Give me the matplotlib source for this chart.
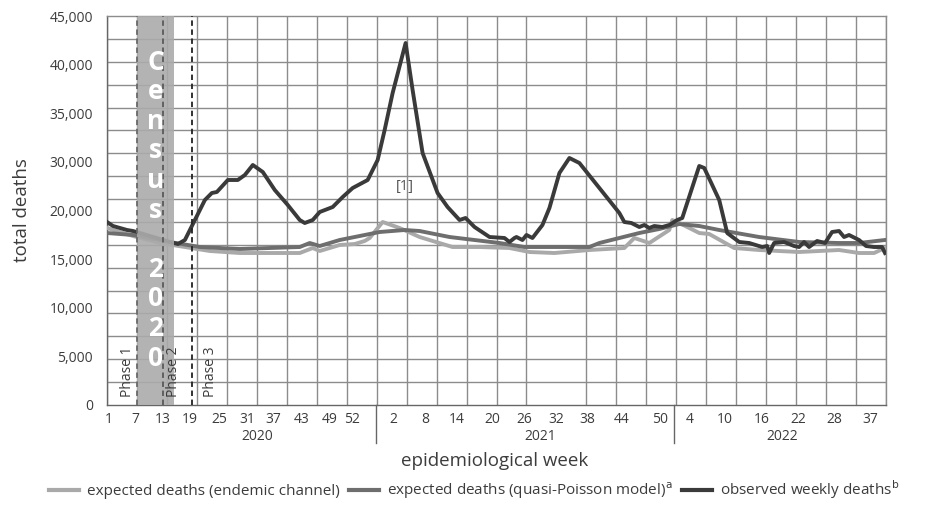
import matplotlib
matplotlib.use("Agg")
import matplotlib.pyplot as plt
import numpy as np
from matplotlib.lines import Line2D

plt.rcParams['font.family'] = ['Open Sans', 'DejaVu Sans']

# ---------------- data (x = running week index along the axis) ----------------
obs_week = [0, 1.2, 2.6, 4, 5.2, 6.6, 8.6, 10.6, 12.6, 14.2, 15.6, 17.6, 19.6, 21, 22,
            24.2, 26.2, 27.6, 29.2, 31.2, 33.6, 36.2, 38.6, 39.6, 41.2, 42.6, 45.2,
            47.2, 49.2, 52.2, 54.2, 55.6, 57.2, 59.8, 61.2, 63.2, 66.2, 68.2, 70.6,
            71.8, 73.6, 76.6, 79.6, 80.6, 81.6, 82, 83.2, 84, 85.2, 87.2, 88.6, 90.6,
            92.6, 94.6, 98.6, 102.6, 103.6, 105, 106.6, 107.6, 108.6, 109.6, 111.2,
            112.6, 114.2, 115.2, 118.6, 119.6, 122.6, 124.2, 126.6, 128.6, 131.2,
            132.2, 132.6, 133.6, 135.6, 137.6, 138.6, 139.6, 140.6, 142.2, 143.8,
            145.2, 146.6, 147.6, 148.6, 150.6, 152, 153.6, 155.2, 155.8]
obs_deaths = [21170, 20706, 20475, 20244, 20128, 19897, 19550, 19203, 18856, 18624,
              19087, 21401, 23714, 24524, 24640, 26028, 26028, 26606, 27763, 26953,
              24871, 23136, 21401, 21054, 21401, 22326, 22905, 24061, 25103, 26028,
              28342, 31812, 36092, 41876, 36439, 29151, 24524, 22905, 21401, 21632,
              20591, 19434, 19319, 18856, 19319, 19434, 19087, 19666, 19319, 20822,
              22789, 26838, 28573, 27995, 25103, 22211, 21170, 21054, 20591, 20822,
              20475, 20706, 20591, 20822, 21401, 21632, 27648, 27416, 23714, 19897,
              18856, 18740, 18277, 18393, 17583, 18740, 18856, 18393, 18277, 18856,
              18277, 18972, 18740, 20013, 20128, 19434, 19666, 19087, 18393, 18277,
              18277, 17583]

endemic_week = [0, 5.2, 10.6, 15.6, 20.6, 26.6, 38.6, 41.2, 42.6, 46.6, 49.6, 51.6,
                52.6, 55.2, 58.6, 62.6, 69.2, 74.6, 80.6, 84.6, 89.6, 96.6, 103.6,
                105.6, 108.6, 112.6, 113.2, 114.6, 118.6, 120.6, 125.6, 130.6, 138.6,
                146.6, 150.6, 153.6, 155.8]
endemic_deaths = [20475, 19550, 18740, 18277, 17815, 17583, 17583, 18162, 17815, 18509,
                  18624, 18972, 19319, 21170, 20475, 19434, 18277, 18277, 18162, 17699,
                  17583, 17930, 18162, 19319, 18740, 20244, 21401, 21054, 19897, 19781,
                  18162, 17930, 17699, 17930, 17583, 17583, 18162]

qp_week = [0, 5.2, 12.6, 18.6, 26.6, 38.6, 40.6, 42.6, 46.6, 51.6, 54.6, 59.6, 62.6,
           68.6, 78.6, 83.6, 96.6, 98.6, 106.6, 110.6, 114.6, 118.6, 122.6, 130.6,
           138.6, 146.6, 150.6, 155.8]
qp_deaths = [19897, 19666, 18856, 18277, 18046, 18277, 18740, 18393, 19087, 19666,
             20013, 20244, 20128, 19434, 18740, 18277, 18277, 18740, 19897, 20360,
             20938, 20706, 20244, 19434, 18856, 18740, 18740, 19087]

y_tick_labels = ["0", "5,000", "10,000", "15,000", "20,000", "30,000", "35,000",
                 "40,000", "45,000"]

week_labels = ["1", "7", "13", "19", "25", "31", "37", "43", "49", "52",
               "2", "8", "14", "20", "26", "32", "38", "44", "50",
               "4", "10", "16", "22", "28", "37"]
week_label_pos = [0.4, 5.6, 11.2, 16.6, 22.4, 28, 33.4, 39, 44.6, 49,
                  57.4, 63.8, 70, 77.2, 83.6, 90, 96.2, 103, 110.8,
                  116.6, 123.8, 131.2, 138.4, 145.6, 152.8]
years = ["2020", "2021", "2022"]
year_label_pos = [30, 86.8, 135.2]
year_bounds = [53.8, 113.6]

census_text = "Census 2020"
census_span = (6, 13.4)
phase_lines = [6, 11.2, 17]
phase_line_colors = ["#6a6a6a", "#5a5a5a", "#222222"]
phase_names = ["Phase 1", "Phase 2", "Phase 3"]
phase_text_pos = [4.2, 13.3, 20.8]

# ---------------- figure ----------------
C_DARK = "#3a3a3a"
C_MID = "#6e6e6e"
C_LIGHT = "#a9a9a9"
C_TEXT = "#3c3c3c"

fig = plt.figure(figsize=(9.48, 5.05), dpi=100)
ax = fig.add_axes([107/948, 1-405/505, (886-107)/948, (405-16)/505])

ax.set_xlim(0, 156)
ax.set_ylim(0, 45000)

# grid (minor ticks only)
ax.set_xticks(np.arange(0, 157, 6), minor=True)
ax.set_yticks(np.linspace(0, 45000, 18), minor=True)
ax.grid(True, which="minor", color="#8c8c8c", linewidth=1.0)
ax.grid(False, which="major")
ax.set_axisbelow(True)

ax.set_yticks(np.linspace(0, 45000, len(y_tick_labels)))
ax.set_yticklabels(y_tick_labels)
ax.set_xticks(week_label_pos)
ax.set_xticklabels(week_labels)
ax.tick_params(axis="both", which="both", length=0, labelsize=10, labelcolor=C_TEXT)
ax.tick_params(axis="y", pad=10)
ax.tick_params(axis="x", pad=5)

for s in ax.spines.values():
    s.set_color("#8c8c8c")
    s.set_linewidth(1.0)
ax.spines["bottom"].set_color("#666666")
ax.spines["left"].set_color("#666666")

# lines
ax.plot(endemic_week, endemic_deaths, color=C_LIGHT, lw=2.8, zorder=3,
        solid_joinstyle="round")
ax.plot(qp_week, qp_deaths, color=C_MID, lw=2.8, zorder=3, solid_joinstyle="round")
ax.plot(obs_week, obs_deaths, color=C_DARK, lw=2.8, zorder=4, solid_joinstyle="round")

# census band
ax.axvspan(census_span[0], census_span[1], color="#ababab", alpha=0.9, zorder=5, lw=0)
for i, ch in enumerate(census_text):
    yf = (405 - 62) / 389 - i * (358 - 62) / 389 / (len(census_text) - 1)
    ax.text((census_span[0] + census_span[1]) / 2, yf * 45000, ch, color="white",
            fontsize=19, fontweight="bold", ha="center", va="center", zorder=7)

# phase lines
for xp, col in zip(phase_lines, phase_line_colors):
    ax.axvline(xp, color=col, lw=1.3, ls=(0, (3, 2)), zorder=6)
for xp, name in zip(phase_text_pos, phase_names):
    ax.text(xp, 900, name, rotation=90, fontsize=10, color=C_TEXT,
            ha="center", va="bottom", zorder=7)

# annotation
ax.text(59.6, 25300, "[1]", fontsize=10.5, color="#555555", ha="center", va="center",
        zorder=6)

# year separators and labels
for xb in year_bounds:
    ax.plot([xb, xb], [0, -4400], color="#666666", lw=1.0, clip_on=False, zorder=2)
for xp, yr in zip(year_label_pos, years):
    ax.text(xp, -3700, yr, fontsize=10, color=C_TEXT, ha="center", va="center",
            clip_on=False)

fig.text(495/948, 1 - 461/505, "epidemiological week", fontsize=13.5, color=C_TEXT,
         ha="center", va="center")
fig.text(22/948, 1 - 210/505, "total deaths", fontsize=13.5, color=C_TEXT,
         ha="center", va="center", rotation=90)

handles = [Line2D([], [], color=C_LIGHT, lw=3),
           Line2D([], [], color=C_MID, lw=3),
           Line2D([], [], color=C_DARK, lw=3)]
labels = ["expected deaths (endemic channel)",
          r"expected deaths (quasi-Poisson model)$^{\mathrm{a}}$",
          r"observed weekly deaths$^{\mathrm{b}}$"]
fig.legend(handles, labels, loc="center", bbox_to_anchor=(0.5, 1 - 490/505), ncol=3,
           frameon=False, fontsize=11, handlelength=2.0, handletextpad=0.5,
           columnspacing=0.6, labelcolor=C_TEXT, borderpad=0, borderaxespad=0)

fig.savefig("out.png", dpi=100)
